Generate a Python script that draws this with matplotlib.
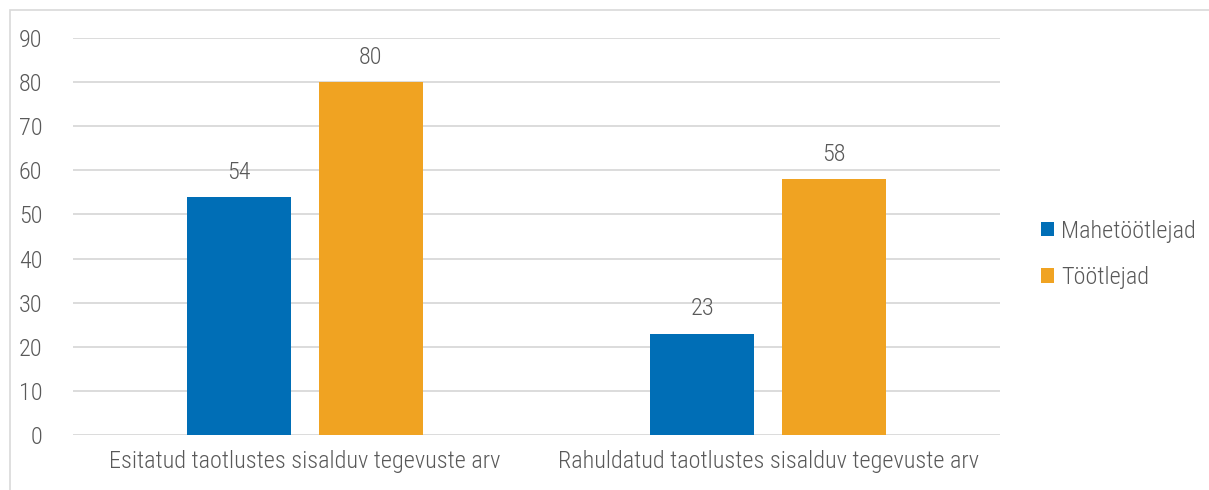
import numpy as np
import matplotlib
matplotlib.use("Agg")
import matplotlib.pyplot as plt
from matplotlib import font_manager
from matplotlib.patches import Rectangle

# Data
categories = ["Esitatud taotlustes sisalduv tegevuste arv",
              "Rahuldatud taotlustes sisalduv tegevuste arv"]
series_names = ["Mahetöötlejad", "Töötlejad"]
mahe_values = [54, 23]
tootlejad_values = [80, 58]
colors = ["#006EB6", "#F0A322"]

# Font: prefer Roboto Condensed if available
names = {f.name for f in font_manager.fontManager.ttflist}
fam = "Roboto Condensed" if "Roboto Condensed" in names else "Roboto"
plt.rcParams["font.family"] = [fam, "DejaVu Sans"]
plt.rcParams["font.weight"] = "light"
text_color = "#595959"
fs = 17.5

W, H = 1209, 490
fig = plt.figure(figsize=(W / 100, H / 100), dpi=100)
ax = fig.add_axes([73 / W, 1 - 435 / H, (1000 - 73) / W, (435 - 38) / H])

x = np.arange(len(categories))
bw = 0.224
off = 0.1424
ax.bar(x - off, mahe_values, bw, color=colors[0], label=series_names[0], zorder=3)
ax.bar(x + off, tootlejad_values, bw, color=colors[1], label=series_names[1], zorder=3)

for xi, v in zip(x - off, mahe_values):
    ax.text(xi, v + 3, str(v), ha="center", va="bottom", fontsize=fs,
            color=text_color, fontweight="light")
for xi, v in zip(x + off, tootlejad_values):
    ax.text(xi, v + 3, str(v), ha="center", va="bottom", fontsize=fs,
            color=text_color, fontweight="light")

ax.set_xlim(-0.5, 1.5)
ax.set_ylim(0, 90)
ax.set_yticks(range(0, 91, 10))
ax.set_xticks(x)
ax.set_xticklabels(categories)
ax.tick_params(axis="both", length=0, labelsize=fs, labelcolor=text_color)
ax.tick_params(axis="y", pad=22)
ax.tick_params(axis="x", pad=11)
ax.grid(axis="y", color="#D9D9D9", linewidth=1.3, zorder=0)
for s in ax.spines.values():
    s.set_visible(False)

leg = fig.legend(loc="upper left", bbox_to_anchor=(1031 / W, 1 - 210 / H),
                 frameon=False, fontsize=fs, handlelength=0.55, handleheight=0.55,
                 handletextpad=0.3, labelspacing=0.95, borderaxespad=0)
for t in leg.get_texts():
    t.set_color(text_color)

# outer frame
fig.patches.append(Rectangle((10 / W, -0.1), 1.2, 1 - 10 / H + 0.1,
                             transform=fig.transFigure, fill=False,
                             edgecolor="#D9D9D9", linewidth=1.2))

fig.savefig("out.png", dpi=100)
